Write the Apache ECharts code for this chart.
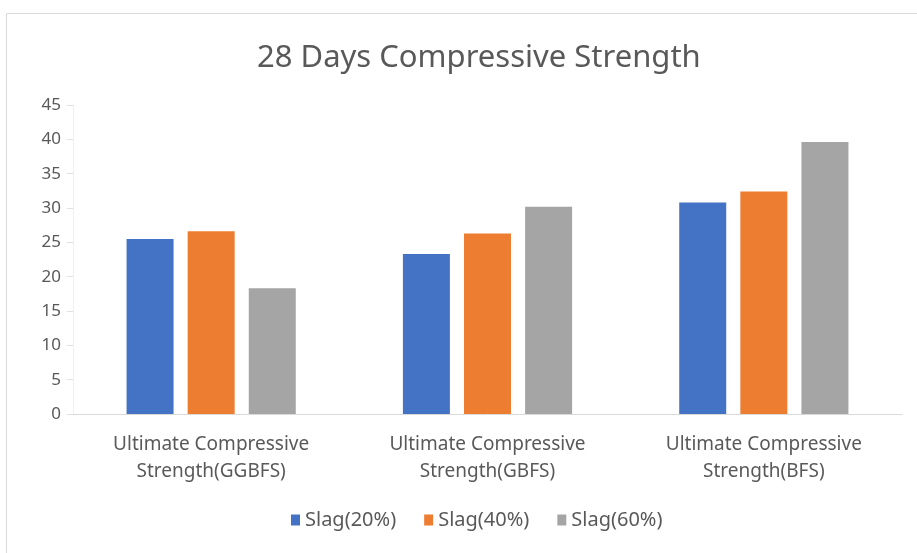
<!DOCTYPE html>
<html><head><meta charset="utf-8">
<script src="https://cdn.jsdelivr.net/npm/echarts@6/dist/echarts.min.js"></script>
<style>html,body{margin:0;padding:0;background:#fff}#c{width:917px;height:553px}</style>
</head><body><div id="c"></div>
<script>
const categories = ['Ultimate Compressive\nStrength(GGBFS)', 'Ultimate Compressive\nStrength(GBFS)', 'Ultimate Compressive\nStrength(BFS)'];
const slag20 = [25.5, 23.3, 30.8];
const slag40 = [26.6, 26.3, 32.4];
const slag60 = [18.3, 30.2, 39.6];
const seriesNames = ['Slag(20%)', 'Slag(40%)', 'Slag(60%)'];
const colors = ['#4472C4', '#ED7D31', '#A5A5A5'];

const chart = echarts.init(document.getElementById('c'));
const font = 'Noto Sans';
chart.setOption({
  animation: false,
  color: colors,
  graphic: [{type:'rect', shape:{x:6.5,y:13.5,width:920,height:560}, style:{fill:'none',stroke:'#d9d9d9',lineWidth:1}}],
  title: {text: '28 Days Compressive Strength', left: 252, top: 38,
    textStyle: {fontFamily: font, fontSize: 31, fontWeight: 'normal', color: '#595959'}},
  grid: {left: 73, right: 15, top: 105, bottom: 139},
  legend: {bottom: 18, left: 286, itemWidth: 9, itemHeight: 11, itemGap: 28, icon: 'rect',
    textStyle: {fontFamily: font, fontSize: 20, color: '#595959'}, data: seriesNames},
  xAxis: {type: 'category', data: categories,
    axisLine: {lineStyle: {color: '#d9d9d9'}}, axisTick: {show: false},
    axisLabel: {fontFamily: font, fontSize: 19, color: '#595959', lineHeight: 27, margin: 17}},
  yAxis: {type: 'value', min: 0, max: 45, interval: 5,
    axisLine: {show: true, lineStyle: {color: '#eeeeee'}},
    axisTick: {show: true, inside: false, length: 6, lineStyle: {color: '#e0e0e0'}},
    splitLine: {show: false},
    axisLabel: {fontFamily: font, fontSize: 17, color: '#595959', margin: 12}},
  series: [
    {name: seriesNames[0], type: 'bar', data: slag20, barWidth: 47, barGap: '30%'},
    {name: seriesNames[1], type: 'bar', data: slag40, barWidth: 47, barGap: '30%'},
    {name: seriesNames[2], type: 'bar', data: slag60, barWidth: 47, barGap: '30%'}
  ]
});
</script></body></html>
